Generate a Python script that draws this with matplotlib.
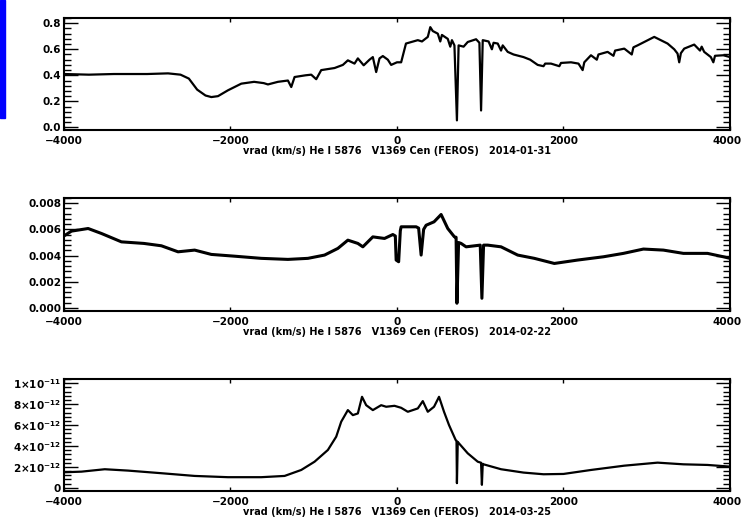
import numpy as np
import matplotlib
matplotlib.use('Agg')
import matplotlib.pyplot as plt
from matplotlib.ticker import AutoMinorLocator
from matplotlib.patches import Rectangle
from matplotlib.transforms import ScaledTranslation

plt.rcParams['font.family'] = ['DejaVu Sans']
plt.rcParams['mathtext.default'] = 'regular'

# --- spectrum 1 : 2014-01-31 ---
v1 = [-4000, -3700, -3400, -3000, -2750, -2600, -2500, -2400, -2300, -2230, -2150, -2030,
      -1870, -1716, -1600, -1550, -1430, -1310, -1270, -1230, -1100, -1030, -970, -910,
      -750, -650, -590, -510, -470, -400, -330, -290, -250, -210, -170, -110, -70, 0,
      50, 108, 250, 300, 370, 400, 430, 490, 520, 540, 610, 640, 660, 690, 720, 740,
      800, 850, 950, 990, 1010, 1030, 1100, 1140, 1160, 1210, 1250, 1270, 1330, 1400,
      1520, 1600, 1690, 1760, 1780, 1850, 1950, 1970, 2090, 2180, 2230, 2250, 2330,
      2400, 2420, 2530, 2600, 2620, 2730, 2820, 2840, 2890, 3090, 3250, 3330, 3370,
      3390, 3410, 3450, 3570, 3640, 3660, 3690, 3770, 3800, 3820, 3920, 4000]
f1 = [0.41, 0.405, 0.41, 0.41, 0.415, 0.405, 0.375, 0.29, 0.245, 0.233, 0.24, 0.285,
      0.336, 0.35, 0.34, 0.33, 0.35, 0.36, 0.31, 0.387, 0.40, 0.405, 0.37, 0.44,
      0.456, 0.48, 0.515, 0.49, 0.53, 0.477, 0.52, 0.54, 0.425, 0.53, 0.548, 0.52, 0.48, 0.50,
      0.50, 0.644, 0.67, 0.66, 0.695, 0.77, 0.74, 0.72, 0.66, 0.71, 0.68, 0.62, 0.67, 0.63, 0.054, 0.63,
      0.62, 0.656, 0.677, 0.65, 0.13, 0.67, 0.66, 0.60, 0.65, 0.644, 0.59, 0.63, 0.58, 0.56,
      0.54, 0.52, 0.48, 0.47, 0.49, 0.49, 0.47, 0.495, 0.50, 0.49, 0.44, 0.50, 0.554,
      0.52, 0.56, 0.58, 0.55, 0.59, 0.605, 0.56, 0.615, 0.63, 0.695, 0.644, 0.60, 0.567,
      0.50, 0.57, 0.605, 0.636, 0.59, 0.62, 0.58, 0.54, 0.50, 0.55, 0.554, 0.54]

# --- spectrum 2 : 2014-02-22 ---
v2 = [-4000, -3910, -3710, -3550, -3310, -3040, -2830, -2630, -2430, -2230, -1960, -1630,
      -1310, -1070, -870, -710, -590, -470, -410, -290, -150, -50, -20, -10, 20, 40,
      50, 230, 260, 290, 320, 350, 445, 530, 610, 690, 710, 720, 740, 770, 830, 1000,
      1020, 1040, 1090, 1250, 1450, 1650, 1890, 2170, 2480, 2720, 2960, 3200, 3440,
      3730, 3920, 4000]
f2 = [5.5, 5.87, 6.07, 5.69, 5.05, 4.93, 4.75, 4.29, 4.42, 4.09, 3.96, 3.79,
      3.71, 3.79, 4.04, 4.55, 5.18, 4.93, 4.67, 5.43, 5.31, 5.61, 5.50, 3.66, 3.53, 5.9,
      6.2, 6.2, 6.1, 4.04, 6.0, 6.32, 6.58, 7.14, 6.07, 5.43, 5.40, 0.36, 5.0, 4.93, 4.67, 4.8,
      0.74, 4.8, 4.8, 4.67, 4.04, 3.79, 3.40, 3.66, 3.91, 4.17, 4.50, 4.42, 4.17,
      4.17, 3.91, 3.79]
f2 = [x * 1e-3 for x in f2]

# --- spectrum 3 : 2014-03-25 ---
v3 = [-4000, -3790, -3510, -3230, -2830, -2430, -2030, -1630, -1350, -1150, -990, -830,
      -730, -670, -590, -530, -470, -420, -370, -290, -190, -130, -30, 50, 130, 250,
      310, 370, 445, 505, 565, 625, 705, 715, 720, 730, 745, 850, 970, 1010, 1020, 1030,
      1040, 1250, 1520, 1760, 2000, 2330, 2730, 3130, 3440, 3730, 4000]
f3 = [1.49, 1.55, 1.78, 1.65, 1.40, 1.14, 1.02, 1.02, 1.14, 1.71, 2.5, 3.62,
      4.89, 6.32, 7.43, 6.95, 7.11, 8.7, 7.9, 7.43, 7.9, 7.75, 7.84, 7.65, 7.27, 7.59,
      8.29, 7.27, 7.75, 8.7, 7.27, 6.0, 4.57, 4.5, 0.45, 4.4, 4.25, 3.3, 2.5, 2.4, 0.29, 2.3,
      2.25, 1.78, 1.46, 1.30, 1.33, 1.71, 2.12, 2.41, 2.25, 2.19, 2.03]
f3 = [x * 1e-12 for x in f3]

labels = ['vrad (km/s) He I 5876   V1369 Cen (FEROS)   2014-01-31',
          'vrad (km/s) He I 5876   V1369 Cen (FEROS)   2014-02-22',
          'vrad (km/s) He I 5876   V1369 Cen (FEROS)   2014-03-25']

fig = plt.figure(figsize=(7.43, 5.27), dpi=100)

# blue strip at the top left edge
fig.patches.append(Rectangle((0, 1 - 118 / 527), 5 / 743, 118 / 527,
                             transform=fig.transFigure, color='#0000ff', zorder=5))

boxes = [[0.0861, 0.7533, 0.8964, 0.2125],
         [0.0861, 0.4099, 0.8964, 0.2144],
         [0.0861, 0.0683, 0.8964, 0.2125]]
ylims = [(-0.02, 0.84), (-0.00023, 0.0084), (-0.3e-12, 10.4e-12)]
yticks = [[0.0, 0.2, 0.4, 0.6, 0.8],
          [0.0, 0.002, 0.004, 0.006, 0.008],
          [0, 2e-12, 4e-12, 6e-12, 8e-12, 1e-11]]
ytl = [['0.0', '0.2', '0.4', '0.6', '0.8'],
       ['0.000', '0.002', '0.004', '0.006', '0.008'],
       ['0', r'$2{\times}10^{-12}$', r'$4{\times}10^{-12}$', r'$6{\times}10^{-12}$',
        r'$8{\times}10^{-12}$', r'$1{\times}10^{-11}$']]
data = [(v1, f1, 1.6), (v2, f2, 2.2), (v3, f3, 1.6)]

for i in range(3):
    ax = fig.add_axes(boxes[i])
    v, f, lw = data[i]
    ax.plot(v, f, color='black', lw=lw)
    ax.set_xlim(-4000, 4000)
    ax.set_ylim(*ylims[i])
    ax.set_xticks([-4000, -2000, 0, 2000, 4000])
    ax.set_xticklabels(['\u22124000', '\u22122000', '0', '2000', '4000'])
    ax.set_yticks(yticks[i])
    ax.set_yticklabels(ytl[i])
    ax.yaxis.set_minor_locator(AutoMinorLocator(5))
    ax.tick_params(axis='x', which='major', direction='in', length=3, width=1,
                   top=True, bottom=True, labelsize=7.5, pad=4)
    ax.tick_params(axis='y', which='major', direction='in', length=10, width=1,
                   left=True, right=True, labelsize=7.5, pad=2)
    ax.tick_params(axis='y', which='minor', direction='in', length=5, width=1,
                   left=True, right=True)
    for lab in ax.get_xticklabels() + ax.get_yticklabels():
        lab.set_fontweight('bold')
    # keep the right-most label inside the figure
    last = ax.get_xticklabels()[-1]
    last.set_horizontalalignment('right')
    last.set_transform(last.get_transform() + ScaledTranslation(12 / 100, 0, fig.dpi_scale_trans))
    for s in ax.spines.values():
        s.set_linewidth(1.5)
    ax.set_xlabel(labels[i], fontsize=7, fontweight='bold', labelpad=0)

fig.savefig('out.png', dpi=100)
